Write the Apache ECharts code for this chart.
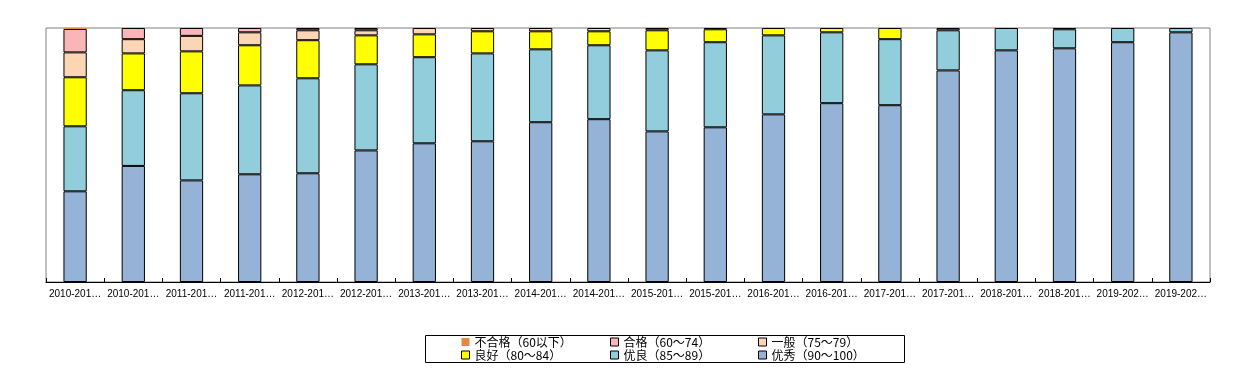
<!DOCTYPE html>
<html>
<head>
<meta charset="utf-8">
<script src="https://cdn.jsdelivr.net/npm/echarts@6/dist/echarts.min.js"></script>
<style>html,body{margin:0;padding:0;background:#fff}#c{width:1237px;height:373px}</style>
</head>
<body>
<div id="c"></div>
<script>
// Categories (semesters)
const categories = [
  "2010-2011学年第一学期","2010-2011学年第二学期",
  "2011-2012学年第一学期","2011-2012学年第二学期",
  "2012-2013学年第一学期","2012-2013学年第二学期",
  "2013-2014学年第一学期","2013-2014学年第二学期",
  "2014-2015学年第一学期","2014-2015学年第二学期",
  "2015-2016学年第一学期","2015-2016学年第二学期",
  "2016-2017学年第一学期","2016-2017学年第二学期",
  "2017-2018学年第一学期","2017-2018学年第二学期",
  "2018-2019学年第一学期","2018-2019学年第二学期",
  "2019-2020学年第一学期","2019-2020学年第二学期"
];
// Percent shares per grade band
const youxiu   = [35.7,45.7,40.0,42.4,42.8,51.8,54.6,55.4,62.9,64.1,59.3,60.9,66.0,70.4,69.6,83.3,91.2,92.0,94.4,98.3]; // 优秀（90～100）
const youliang = [25.6,29.8,34.3,35.0,37.4,33.9,33.9,34.6,28.7,29.1,31.9,33.5,31.1,27.9,26.0,15.8,8.8,7.5,5.6,1.7];   // 优良（85～89）
const lianghao = [19.3,14.5,16.5,15.8,15.0,11.4,9.0,8.7,7.1,5.5,7.9,5.1,2.9,1.7,4.4,0.9,0,0.5,0,0];                   // 良好（80～84）
const yiban    = [9.8,5.6,6.1,5.1,3.9,2.0,2.5,1.3,1.3,1.3,0.9,0.5,0,0,0,0,0,0,0,0];                                  // 一般（75～79）
const hege     = [9.2,4.4,3.1,1.7,0.9,0.9,0,0,0,0,0,0,0,0,0,0,0,0,0,0];                                              // 合格（60～74）
const buhege   = [0.4,0,0,0,0,0,0,0,0,0,0,0,0,0,0,0,0,0,0,0];                                                        // 不合格（60以下）
const seriesNames = ["不合格（60以下）","合格（60～74）","一般（75～79）","良好（80～84）","优良（85～89）","优秀（90～100）"];

const colors = {
  "不合格（60以下）": "#E4883E",
  "合格（60～74）": "#FAB6B6",
  "一般（75～79）": "#FCD5B4",
  "良好（80～84）": "#FFFF00",
  "优良（85～89）": "#92CDDC",
  "优秀（90～100）": "#95B3D7"
};
const dataMap = {
  "不合格（60以下）": buhege,
  "合格（60～74）": hege,
  "一般（75～79）": yiban,
  "良好（80～84）": lianghao,
  "优良（85～89）": youliang,
  "优秀（90～100）": youxiu
};
const stackOrder = ["优秀（90～100）","优良（85～89）","良好（80～84）","一般（75～79）","合格（60～74）","不合格（60以下）"];

const series = stackOrder.map(n => ({
  name: n,
  type: 'bar',
  stack: 'all',
  barWidth: '40%',
  data: dataMap[n].map(v => v === 0 ? '-' : v),
  itemStyle: { color: colors[n], borderColor: '#000', borderWidth: n === "不合格（60以下）" ? 0 : 1 },
  emphasis: { disabled: true }
}));

const legendText = { fontSize: 12, color: '#000', fontFamily: '"Noto Sans CJK SC", sans-serif', lineHeight: 12 };
function mkLegend(left, names) {
  return {
    orient: 'vertical', left: left, top: 336, itemGap: 1, itemWidth: 8, itemHeight: 8, icon: 'rect',
    padding: 0,
    textStyle: legendText,
    data: names.map(n => ({ name: n, itemStyle: { color: colors[n], borderColor: '#000', borderWidth: n === "不合格（60以下）" ? 0 : 1 } }))
  };
}

const chart = echarts.init(document.getElementById('c'), null, { renderer: 'canvas' });
chart.setOption({
  animation: false,
  backgroundColor: '#fff',
  grid: { left: 46, right: 27, top: 28, bottom: 91, show: true, borderColor: '#808080', borderWidth: 1, containLabel: false },
  legend: [
    mkLegend(461, ["不合格（60以下）","良好（80～84）"]),
    mkLegend(610, ["合格（60～74）","优良（85～89）"]),
    mkLegend(758, ["一般（75～79）","优秀（90～100）"])
  ],
  graphic: [{
    type: 'rect', shape: { x: 425.5, y: 335.5, width: 479, height: 27 },
    style: { fill: 'none', stroke: '#000', lineWidth: 1 }, silent: true
  }],
  xAxis: {
    type: 'category', data: categories,
    axisLine: { lineStyle: { color: '#000', width: 1 } },
    axisTick: { show: true, inside: true, length: 4, lineStyle: { color: '#000' } },
    axisLabel: {
      interval: 0, margin: 7, fontSize: 10, color: '#000', fontFamily: '"Liberation Sans", sans-serif',
      formatter: v => v.slice(0, 8) + '…'
    }
  },
  yAxis: {
    type: 'value', min: 0, max: 100,
    axisLine: { show: false }, axisTick: { show: false }, axisLabel: { show: false }, splitLine: { show: false }
  },
  series: series
});
</script>
</body>
</html>
